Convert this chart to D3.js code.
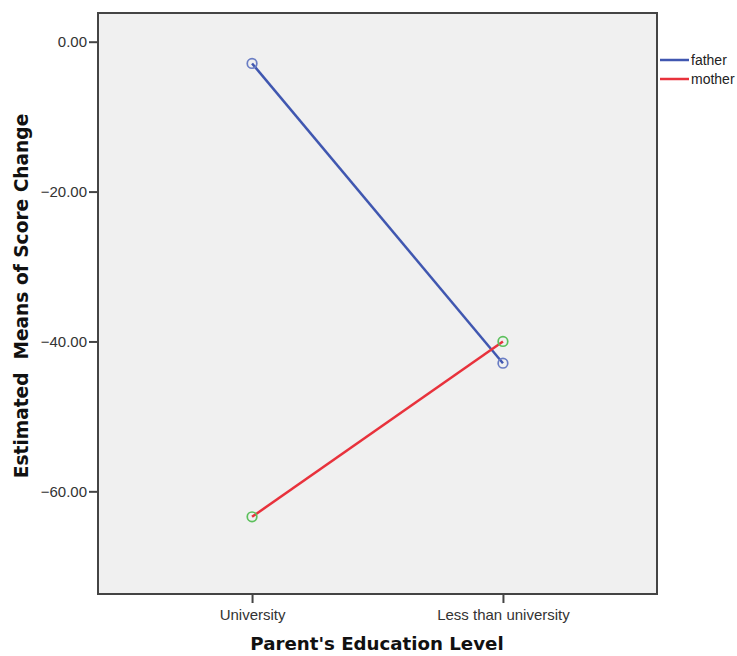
<!DOCTYPE html>
<html><head><meta charset="utf-8">
<script src="https://cdn.jsdelivr.net/npm/d3@7"></script>
<style>body{margin:0;background:#fff}</style>
</head><body>
<svg id="c" width="737" height="656"></svg>
<script>
const categories = ["University", "Less than university"];
const seriesNames = ["father", "mother"];
const fatherValues = [-2.9, -42.9];
const motherValues = [-63.4, -40.0];
const yTicks = [0, -20, -40, -60];
const lineColors = ["#4057b0", "#e8323c"];
const markerColors = ["#6a7dc4", "#5cc05c"];

const svg = d3.select("#c");
const L = 98, R = 657, T = 13, B = 594;
const x = d3.scalePoint().domain(categories).range([L, R]).padding(0.614);
const y = d3.scaleLinear().domain([-73.7, 3.83]).range([B, T]);
const tickFont = "Arial, 'Liberation Sans', sans-serif";

svg.append("rect").attr("x", L).attr("y", T).attr("width", R - L).attr("height", B - T)
  .attr("fill", "#f0f0f0").attr("stroke", "none");

const yAx = svg.append("g").attr("transform", `translate(${L},0)`)
  .call(d3.axisLeft(y).tickValues(yTicks).tickSize(9).tickPadding(2).tickFormat(d3.format(".2f")));
yAx.select(".domain").remove();
yAx.selectAll("line").attr("stroke", "#444").attr("stroke-width", 2);
yAx.selectAll("text").attr("font-family", tickFont).attr("font-size", 15).attr("fill", "#333");

const xAx = svg.append("g").attr("transform", `translate(0,${B})`)
  .call(d3.axisBottom(x).tickSize(9).tickPadding(6));
xAx.select(".domain").remove();
xAx.selectAll("line").attr("stroke", "#444").attr("stroke-width", 2);
xAx.selectAll("text").attr("font-family", tickFont).attr("font-size", 15).attr("fill", "#333");

svg.append("rect").attr("x", L).attr("y", T).attr("width", R - L).attr("height", B - T)
  .attr("fill", "none").attr("stroke", "#444").attr("stroke-width", 2);

const series = [fatherValues, motherValues];
series.forEach((vals, i) => {
  const pts = categories.map((c, j) => [x(c), y(vals[j])]);
  svg.append("path").attr("d", d3.line()(pts)).attr("fill", "none")
    .attr("stroke", lineColors[i]).attr("stroke-width", 2.5);
});
series.forEach((vals, i) => {
  svg.selectAll(null).data(categories).enter().append("circle")
    .attr("cx", c => x(c)).attr("cy", (c, j) => y(vals[j])).attr("r", 4.8)
    .attr("fill", "none").attr("stroke", markerColors[i]).attr("stroke-width", 1.7);
});

// legend
seriesNames.forEach((s, i) => {
  const ly = 60 + i * 19;
  svg.append("line").attr("x1", 660).attr("x2", 689).attr("y1", ly).attr("y2", ly)
    .attr("stroke", lineColors[i]).attr("stroke-width", 2.5);
  svg.append("text").attr("x", 691).attr("y", ly + 5).text(s)
    .attr("font-family", tickFont).attr("font-size", 14).attr("fill", "#222");
});

svg.append("text").attr("x", 377).attr("y", 650).attr("text-anchor", "middle")
  .attr("font-family", "'DejaVu Sans', Verdana, sans-serif").attr("font-weight", "bold").attr("font-size", 18.2)
  .attr("fill", "#111").text("Parent's Education Level");
svg.append("text").attr("transform", `translate(28,296) rotate(-90)`).attr("text-anchor", "middle")
  .attr("font-family", "'DejaVu Sans', Verdana, sans-serif").attr("font-weight", "bold").attr("font-size", 18.6)
  .attr("fill", "#111").attr("xml:space", "preserve").text("Estimated  Means of Score Change");
</script>
</body></html>
